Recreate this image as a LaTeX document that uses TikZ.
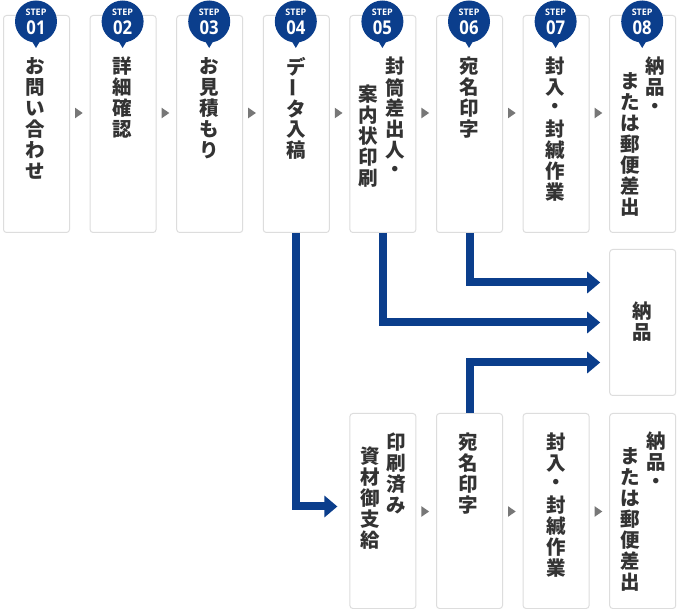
\documentclass[tikz,border=0pt]{standalone}
\usepackage{fontspec}
\newfontfamily\jp{Noto Sans CJK JP}
\newfontfamily\stepfont{Open Sans}
\usetikzlibrary{arrows.meta,calc}
\definecolor{navy}{HTML}{0B3E8C}
\definecolor{boxline}{HTML}{DDDDDD}
\definecolor{txt}{HTML}{333333}
\definecolor{trigray}{HTML}{777777}
\newcommand\vbar{\rotatebox[origin=c]{90}{ー}}
\tikzset{
  stepbox/.style={draw=boxline, line width=1pt, rounded corners=3pt, fill=white,
    minimum width=66pt, inner sep=0pt, anchor=north west},
  vch/.style={inner sep=0pt, font=\jp\bfseries\fontsize{19.5}{20}\selectfont, text=txt},
  flow/.style={draw=navy, line width=8pt, -{Triangle[length=13pt,width=21pt]}},
  badgefill/.style={fill=navy},
  marker/.style={fill=trigray},
  steplbl/.style={inner sep=0pt, text=white, font=\stepfont\bfseries\fontsize{9}{9}\selectfont},
  stepnum/.style={inner sep=0pt, text=white, font=\stepfont\bfseries\fontsize{19}{19}\selectfont}
}
\newcommand\vcol[4]{%
  \foreach \ch [count=\i from 0] in {#4} {\node[vch] (#1\i) at ({#2}, {#3+9.5+21*\i}) {\ch};}}
\newcommand\stepbadge[3]{%
  \fill[badgefill] ({#2},21.5) circle[radius=21pt];
  \fill[badgefill] ({#2-6},38) -- ({#2},48) -- ({#2+6},38) -- cycle;
  \node[steplbl] (#1l) at ({#2},12.7) {STEP};
  \node[stepnum] (#1n) at ({#2},27.5) {\scalebox{0.88}[1]{#3}};}
\newcommand\flowmark[2]{\fill[marker] ({#1-4},{#2-5.3}) -- ({#1+3.7},{#2}) -- ({#1-4},{#2+5.3}) -- cycle;}
\begin{document}
\begin{tikzpicture}[x=1pt,y=-1pt]
\useasboundingbox (0,0) rectangle (678,609);
\fill[white] (0,0) rectangle (678,609);
% top row boxes
\foreach \k in {1,...,8} {
  \node[stepbox, minimum height=217pt] (s\k) at ({3+86.6*(\k-1)},15) {};
}
% bottom row boxes
\foreach \k in {5,...,8} {
  \node[stepbox, minimum height=195pt] (b\k) at ({3+86.6*(\k-1)},413) {};
}
% delivery box
\node[stepbox, minimum height=146pt] (d) at (609.2,249) {};
% badges
\stepbadge{g1}{36}{01}
\stepbadge{g2}{122.6}{02}
\stepbadge{g3}{209.2}{03}
\stepbadge{g4}{295.8}{04}
\stepbadge{g5}{382.4}{05}
\stepbadge{g6}{469}{06}
\stepbadge{g7}{555.6}{07}
\stepbadge{g8}{642.2}{08}
% texts top
\vcol{a1}{35.5}{57}{お,問,い,合,わ,せ}
\vcol{a2}{122.6}{57}{詳,細,確,認}
\vcol{a3}{209.2}{57}{お,見,積,も,り}
\vcol{a4}{296}{57}{デ,\vbar,タ,入,稿}
\vcol{a5r}{395.5}{57}{封,筒,差,出,人,・}
\vcol{a5l}{368.5}{85}{案,内,状,印,刷}
\vcol{a6}{469}{57}{宛,名,印,字}
\vcol{a7}{555.6}{57}{封,入,・,封,緘,作,業}
\vcol{a8r}{655}{57}{納,品,・}
\vcol{a8l}{630.5}{72}{ま,た,は,郵,便,差,出}
% texts bottom
\vcol{c5r}{396.5}{433}{印,刷,済,み}
\vcol{c5l}{370}{447}{資,材,御,支,給}
\vcol{c6}{468.5}{433}{宛,名,印,字}
\vcol{c7}{556}{433}{封,入,・,封,緘,作,業}
\vcol{c8r}{656}{432}{納,品,・}
\vcol{c8l}{630.5}{447}{ま,た,は,郵,便,差,出}
% delivery text
\vcol{dt}{642.2}{302}{納,品}
% small markers
\foreach \k in {1,...,7} {\flowmark{79+86.6*(\k-1)}{113}}
\foreach \k in {5,...,7} {\flowmark{79+86.6*(\k-1)}{511.5}}
% flows
\draw[flow] (s6.south) |- ($(d.west)+(-9,-40)$);
\draw[flow] (s5.south) |- ($(d.west)+(-9,0)$);
\draw[flow] (b6.north) |- ($(d.west)+(-9,40)$);
\draw[flow] (s4.south) |- ($(b5.west)+(-12,-4.5)$);
\end{tikzpicture}
\end{document}
